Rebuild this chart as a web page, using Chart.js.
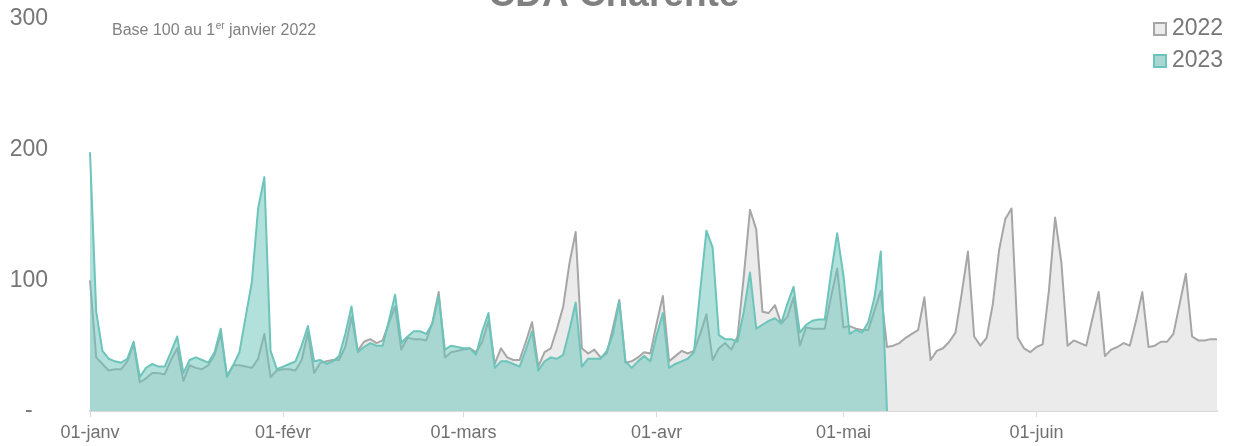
<!DOCTYPE html>
<html lang="fr">
<head>
    <meta charset="UTF-8">
    <title>CDA Charente</title>
    <script src="https://cdn.jsdelivr.net/npm/chart.js@4.4.1/dist/chart.umd.min.js"></script>
    <style>
        body { margin: 0; background: #fff; }
    </style>
</head>
<body>
    <canvas id="chart" width="1236" height="446"></canvas>
    <script>
        // axe des jours (le calendrier du graphique compte un 29 février)
        const monthNames = ['janv', 'févr', 'mars', 'avr', 'mai', 'juin'];
        const monthDays = [31, 29, 31, 30, 31, 30];
        const yTicks = [0, 100, 200, 300];
        const seriesNames = ['2022', '2023'];

        // base 100 au 1er janvier 2022, un point par jour
        const v2022 = [
            100, 41, 36, 31, 32, 32, 38, 52, 22, 25,
            29, 29, 28, 39, 48, 23, 35, 33, 32, 35,
            43, 59, 27, 35, 35, 34, 33, 40, 59, 26,
            31, 32, 32, 31, 39, 60, 29, 37, 38, 39,
            39, 49, 72, 46, 53, 55, 52, 54, 67, 80,
            47, 56, 55, 55, 54, 68, 91, 41, 45, null,
            47, 48, 45, 53, 69, 36, 48, 41, 39, 39,
            53, 68, 34, 45, 48, 63, 80, 113, 137, 48,
            44, 47, 41, 44, 64, 85, 37, 38, 41, 45,
            44, 67, 88, 38, 42, 46, 44, 46, 59, 74,
            39, 48, 52, 47, 57, 103, 154, 139, 76, 75,
            81, 67, 72, 87, 50, 64, 63, 63, 63, 87,
            109, 64, 65, 63, 62, 62, 77, 92, 49, 50,
            52, 56, 59, 62, 87, 39, 46, 48, 53, 60,
            90, 122, 57, 50, 56, 82, 123, 147, 155, 56,
            48, 45, 49, 51, 92, 148, 114, 50, 54, 52,
            50, 71, 91, 42, 47, 49, 52, 50, 69, 91,
            49, 50, 53, 53, 59, 82, 105, 57, 54, 54,
            55, 55
        ];
        const v2023 = [
            198, 76, 46, 40, 38, 37, 40, 53, 26, 33,
            36, 34, 34, 45, 57, 29, 39, 41, 39, 37,
            45, 63, 26, 35, 45, 72, 99, 155, 179, 46,
            32, 34, 36, 38, 50, 65, 38, 39, 36, 38,
            42, 59, 80, 45, 49, 52, 50, 50, 69, 89,
            52, 57, 61, 61, 59, 67, 88, 47, 50, null,
            48, 48, 43, 61, 75, 33, 38, 38, 36, 34,
            47, 61, 31, 38, 41, 40, 43, 62, 83, 34,
            40, 40, 40, 46, 59, 84, 38, 33, 38, 42,
            38, 58, 75, 33, 36, 38, 40, 45, 92, 138,
            125, 58, 55, 55, 53, 76, 106, 63, 66, 69,
            71, 67, 82, 95, 60, 66, 69, 70, 70, 105,
            136, 104, 59, 62, 60, 68, 87, 122, 0
        ];

        const labels = [];
        monthNames.forEach((m, i) => {
            for (let d = 1; d <= monthDays[i]; d++) {
                labels.push(String(d).padStart(2, '0') + '-' + m);
            }
        });

        const FONT = '"Liberation Sans", Arial, sans-serif';
        const lineGray = '#a6a6a6', fillGray = '#ebebeb';
        const lineTeal = '#6cc4ba', fillTeal = 'rgba(108,196,186,0.52)';

        // titre, sous-titre et légende posés à la main comme sur l'original
        const decor = {
            id: 'decor',
            afterDraw(chart) {
                const c = chart.ctx;
                c.save();
                c.fillStyle = '#808080';
                c.textAlign = 'center';
                c.textBaseline = 'alphabetic';
                c.font = 'bold 37px ' + FONT;
                c.fillText('CDA Charente', 614, 6);

                c.textAlign = 'left';
                c.font = '16px ' + FONT;
                let x = 112;
                const y = 35;
                c.fillText('Base 100 au 1', x, y);
                x += c.measureText('Base 100 au 1').width;
                c.font = '10px ' + FONT;
                c.fillText('er', x + 0.5, y - 6);
                x += c.measureText('er').width + 0.5;
                c.font = '16px ' + FONT;
                c.fillText(' janvier 2022', x, y);

                const fills = [fillGray, '#a9d8d3'];
                const borders = [lineGray, lineTeal];
                const rows = [29, 61];
                c.font = '23px ' + FONT;
                c.textBaseline = 'middle';
                seriesNames.forEach((name, i) => {
                    c.fillStyle = fills[i];
                    c.strokeStyle = borders[i];
                    c.lineWidth = 2;
                    c.fillRect(1154, rows[i] - 6, 12, 12);
                    c.strokeRect(1154, rows[i] - 6, 12, 12);
                    c.fillStyle = '#767676';
                    c.fillText(name, 1172, rows[i]);
                });
                c.restore();
            }
        };

        new Chart(document.getElementById('chart'), {
            type: 'line',
            data: {
                labels: labels,
                datasets: [{
                    label: seriesNames[0],
                    data: v2022,
                    borderColor: lineGray,
                    backgroundColor: fillGray,
                    borderWidth: 2,
                    fill: 'origin',
                    order: 2
                }, {
                    label: seriesNames[1],
                    data: v2023,
                    borderColor: lineTeal,
                    backgroundColor: fillTeal,
                    borderWidth: 2,
                    fill: 'origin',
                    order: 1
                }]
            },
            options: {
                responsive: false,
                animation: false,
                spanGaps: true,
                elements: {
                    point: { radius: 0, hoverRadius: 0 },
                    line: { tension: 0, borderJoinStyle: 'round' }
                },
                layout: {
                    padding: { top: 19, right: 19, left: 0, bottom: 0 }
                },
                plugins: {
                    legend: { display: false },
                    tooltip: { enabled: false }
                },
                scales: {
                    x: {
                        offset: false,
                        afterFit: s => { s.height = 35; },
                        grid: {
                            drawOnChartArea: false,
                            drawTicks: true,
                            tickLength: 6,
                            color: '#d9d9d9'
                        },
                        border: { display: true, color: '#d9d9d9', width: 2 },
                        ticks: {
                            autoSkip: false,
                            maxRotation: 0,
                            padding: 5,
                            color: '#707070',
                            font: { family: FONT, size: 18 },
                            callback: function (value) {
                                const l = this.getLabelForValue(value);
                                return l.startsWith('01-') ? l : null;
                            }
                        }
                    },
                    y: {
                        min: yTicks[0],
                        max: yTicks[yTicks.length - 1],
                        afterFit: s => { s.width = 90; },
                        afterBuildTicks: s => { s.ticks = yTicks.map(v => ({ value: v })); },
                        // tickLength sert seulement à décaler les libellés vers la gauche
                        grid: { display: false, drawTicks: true, tickLength: 42 },
                        border: { display: false },
                        ticks: {
                            padding: 0,
                            crossAlign: 'center',
                            color: '#767676',
                            font: { family: FONT, size: 23 },
                            callback: v => v === 0 ? '-' : v
                        }
                    }
                }
            },
            plugins: [decor]
        });
    </script>
</body>
</html>
